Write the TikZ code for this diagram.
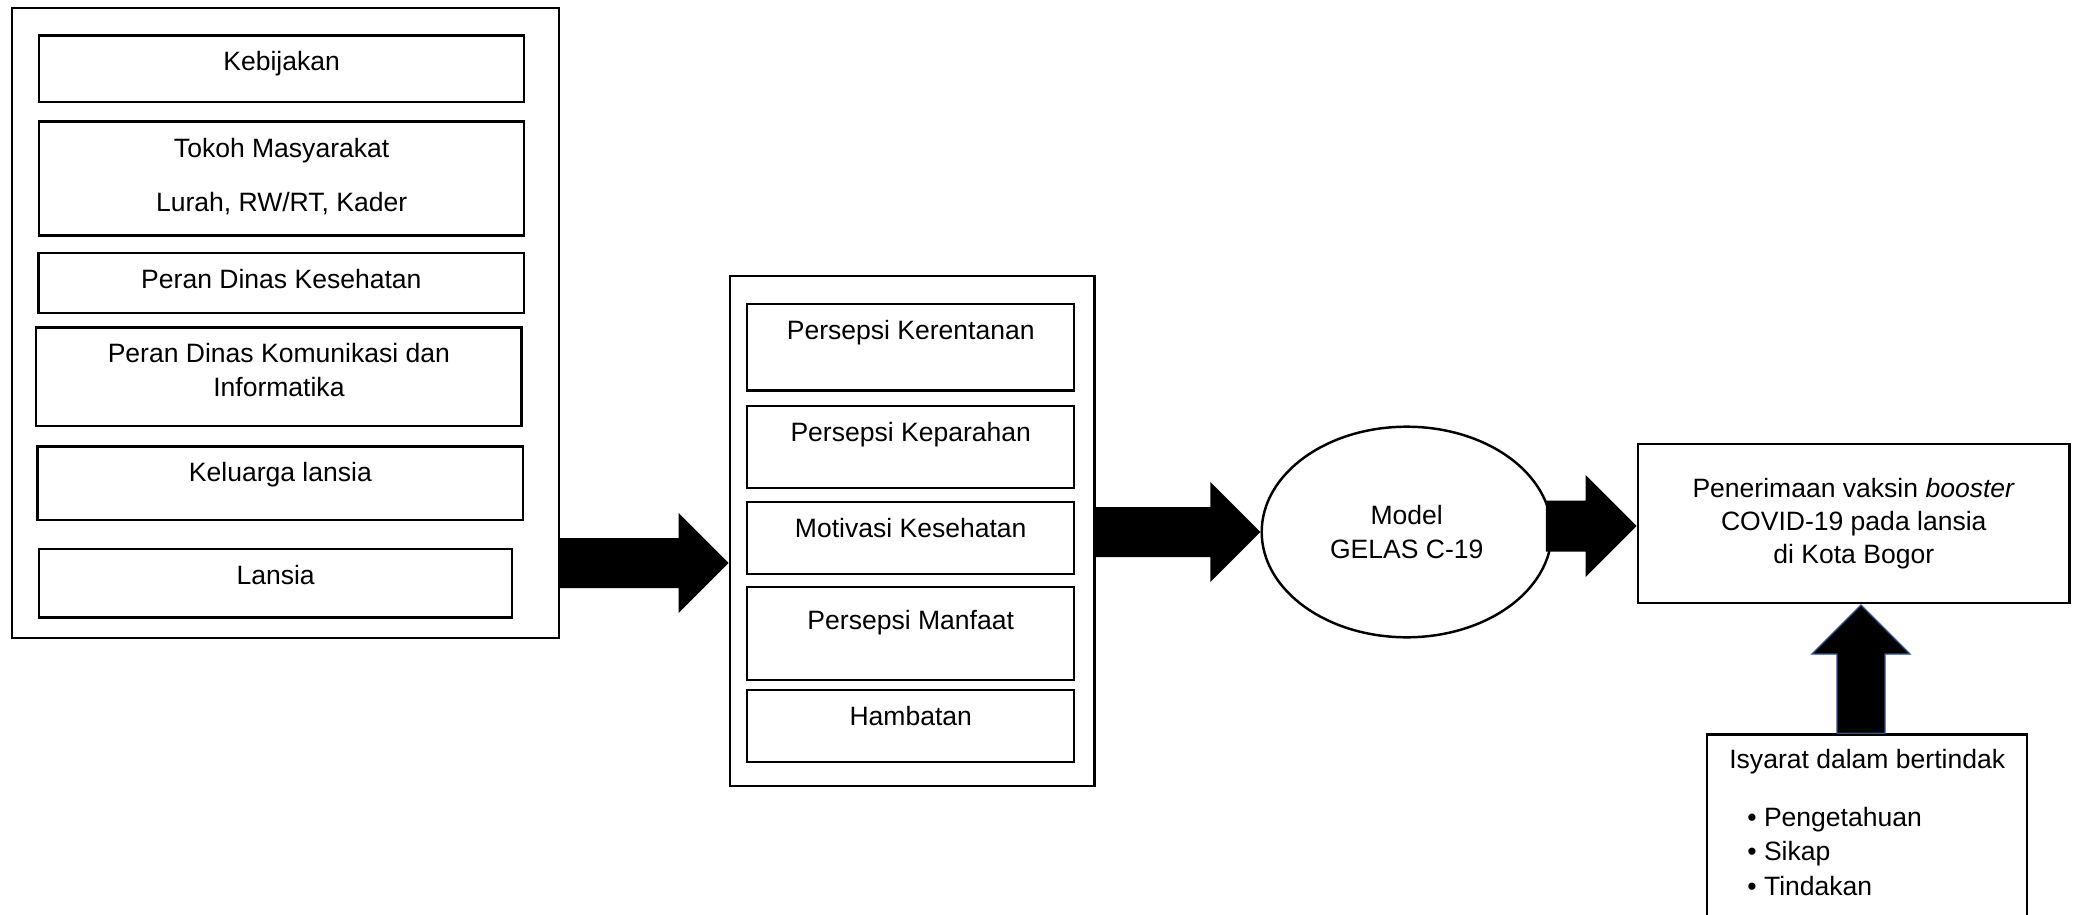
\documentclass[tikz,border=0pt]{standalone}
\usepackage{fontspec}
\setmainfont{Liberation Sans}
\usetikzlibrary{shapes.geometric,calc}

\definecolor{arrowblue}{RGB}{47,82,143}

% fat arrows: tail, tip, half width of shaft, half width of head
\newcommand{\rightblock}[4]{%
	\fill let \p1=(#1), \p2=(#2) in
		(\x1,\y2+#3) -- (\x2-#4,\y2+#3) -- (\x2-#4,\y2+#4) -- (\x2,\y2)
		-- (\x2-#4,\y2-#4) -- (\x2-#4,\y2-#3) -- (\x1,\y2-#3) -- cycle;}
\newcommand{\upblock}[4]{%
	\filldraw[draw=arrowblue, line width=0.75pt] let \p1=(#1), \p2=(#2) in
		(\x2+#3,\y1) -- (\x2+#3,\y2-#4) -- (\x2+#4,\y2-#4) -- (\x2,\y2)
		-- (\x2-#4,\y2-#4) -- (\x2-#3,\y2-#4) -- (\x2-#3,\y1) -- cycle;}

\begin{document}
\begin{tikzpicture}[x=0.2mm, y=-0.2mm, font=\fontsize{15.1}{18.8}\selectfont]
    \tikzstyle{frame} = [draw, line width=1.4pt, anchor=north west, inner sep=0pt]
    \tikzstyle{inside} = [anchor=north, yshift=-3.4mm, inner sep=0pt, align=center]
    \useasboundingbox (0,0) rectangle (2078,915);
    \clip (0,0) rectangle (2078,915);

	% left column
	\node[frame, minimum width=109.4mm, minimum height=126.08mm] (lft) at (10.6,6.6) {};
	\node[frame, minimum width=97.04mm, minimum height=13.32mm,
		label={[inside]north:Kebijakan}] (keb) at (37.8,34.4) {};
	\node[frame, minimum width=97.04mm, minimum height=22.78mm,
		label={[inside]north:{Tokoh Masyarakat\\[12.2pt]Lurah, RW/RT, Kader}}] (tokoh) at (37.8,120.5) {};
	\node[frame, minimum width=97.14mm, minimum height=12mm,
		label={[inside]north:Peran Dinas Kesehatan}] (dinkes) at (37.3,252) {};
	\node[frame, minimum width=97.06mm, minimum height=19.64mm,
		label={[inside]north:{Peran Dinas Komunikasi dan\\Informatika}}] (kominfo) at (35,326.4) {};
	\node[frame, minimum width=97.1mm, minimum height=14.74mm,
		label={[inside]north:Keluarga lansia}] (kel) at (36.4,445.3) {};
	\node[frame, minimum width=94.64mm, minimum height=13.68mm,
		label={[inside]north:Lansia}] (lansia) at (37.8,548) {};

	% middle column
	\node[frame, minimum width=72.92mm, minimum height=102mm] (mid) at (728.7,275) {};
	\node[frame, minimum width=65.4mm, minimum height=17.28mm,
		label={[inside]north:Persepsi Kerentanan}] (rentan) at (746,302.9) {};
	\node[frame, minimum width=65.4mm, minimum height=16.48mm,
		label={[inside]north:Persepsi Keparahan}] (parah) at (746,404.6) {};
	\node[frame, minimum width=65.4mm, minimum height=14.44mm,
		label={[inside]north:Motivasi Kesehatan}] (motiv) at (746,500.7) {};
	\node[frame, minimum width=65.4mm, minimum height=18.52mm,
		label={[inside, yshift=-1.4mm]north:Persepsi Manfaat}] (manfaat) at (746,586) {};
	\node[frame, minimum width=65.4mm, minimum height=14.42mm,
		label={[inside]north:Hambatan}] (hambat) at (746,688.6) {};

	% model and outcome
	\node[draw, ellipse, line width=1.4pt, minimum width=58mm, minimum height=42.12mm,
		inner sep=0pt, align=center] (ell) at (1406.7,532) {Model\\GELAS C-19};
	\node[frame, minimum width=86.32mm, minimum height=31.84mm, align=center] (res)
		at (1636.7,442.5) {Penerimaan vaksin \textit{booster}\\COVID-19 pada lansia\\di Kota Bogor};
	\node[frame, minimum width=64mm, minimum height=41.34mm,
		label={[inside, yshift=0.3mm]north:Isyarat dalam bertindak},
		label={[anchor=north west, inner sep=0pt, align=left, xshift=8.2mm, yshift=-14.66mm]north west:{%
			\textbullet~Pengetahuan\\[0.8pt]\textbullet~Sikap\\[0.8pt]\textbullet~Tindakan}}] (cue) at (1706,733.3) {};

	% arrows
	\coordinate (a1) at (0,563);
	\coordinate (a3) at (0,526);
	\coordinate (a4) at (1861,605);
	\rightblock{lft.east}{mid.west |- a1}{5mm}{10mm}
	\rightblock{mid.east}{ell.west}{5mm}{10mm}
	\rightblock{[xshift=-1.4mm]ell.east}{res.west |- a3}{5.1mm}{10.2mm}
	\upblock{cue.north}{a4}{4.8mm}{9.8mm}
\end{tikzpicture}
\end{document}
